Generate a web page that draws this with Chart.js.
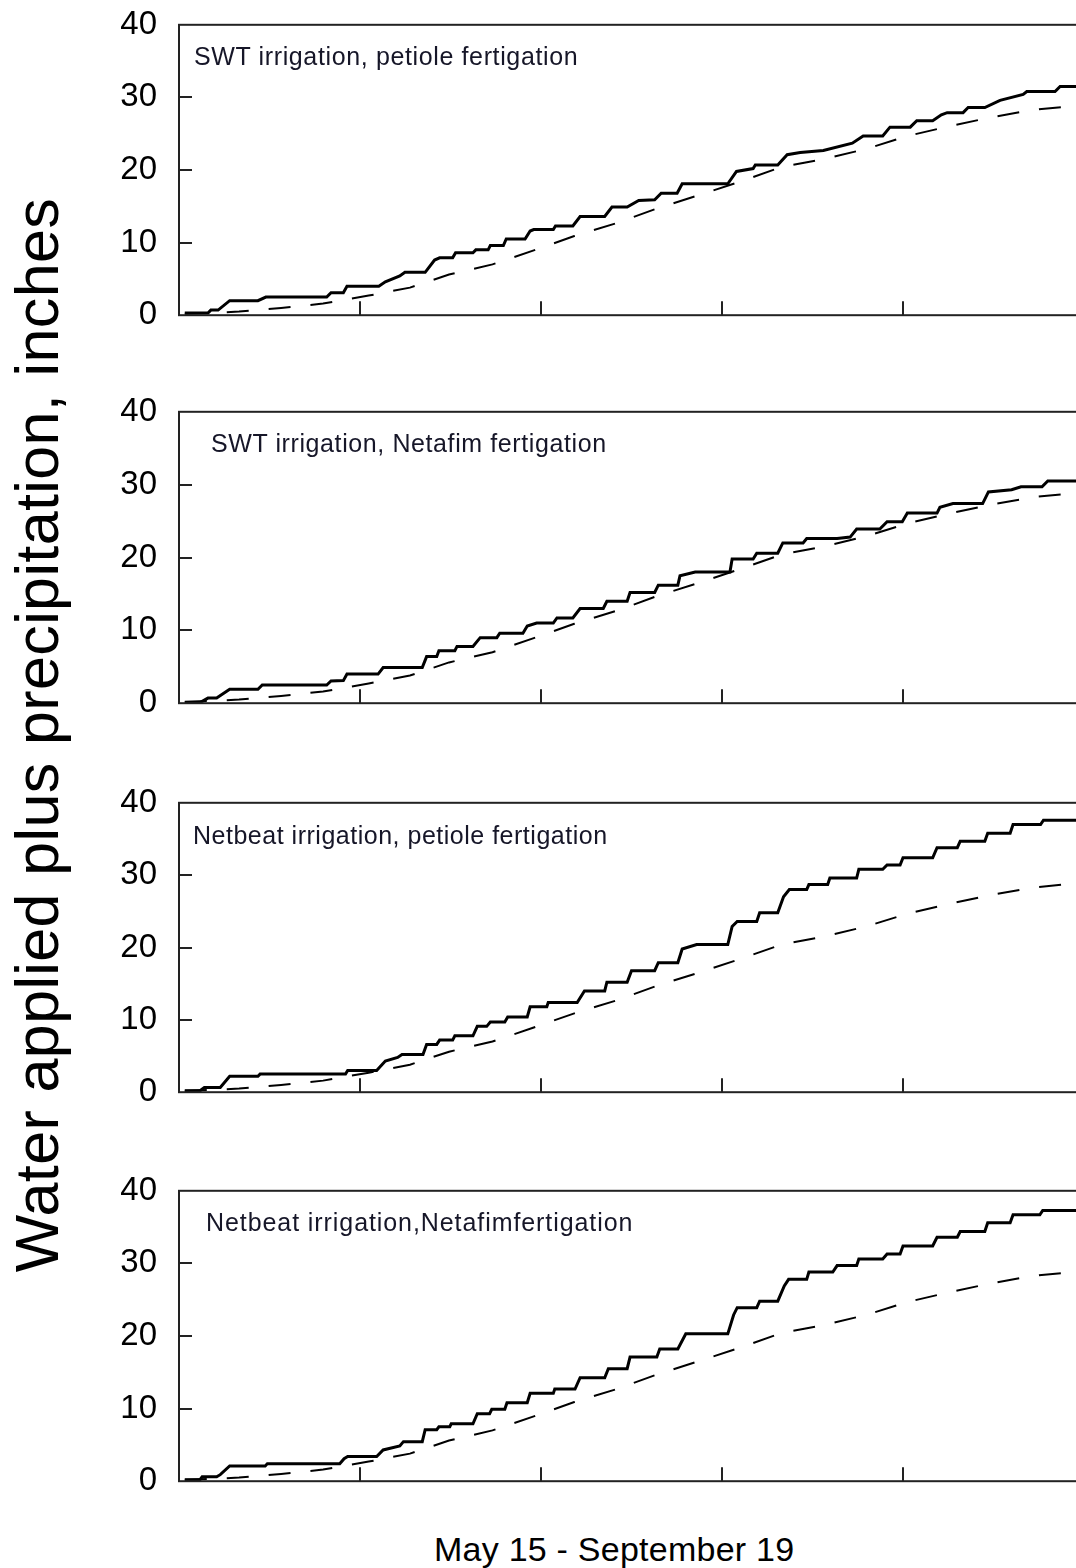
<!DOCTYPE html>
<html lang="en">
<head>
<meta charset="UTF-8">
<title>Water applied plus precipitation</title>
<script src="https://cdn.jsdelivr.net/npm/chart.js"></script>
<style>
  body {
    margin: 0;
    width: 1076px;
    height: 1568px;
    overflow: hidden;
    position: relative;
    background: #fff;
    font-family: "Liberation Sans", Arial, sans-serif;
    color: #000;
  }
  canvas.panel { position: absolute; left: 0; }
  .label { position: absolute; white-space: nowrap; line-height: 1; }
  .panel-title { font-size: 25px; color: #161628; }
  #y-title { font-size: 61px; transform: translate(-50%, -50%) rotate(-90deg); }
  #x-title { font-size: 34px; }
</style>
</head>
<body>

<div id="y-title" class="label">Water applied plus precipitation, inches</div>
<div id="x-title" class="label">May 15 - September 19</div>

<script>
// cumulative inches, [day after May 15, inches]
const swtPetiole = [
  [0.8,0.3],[4.0,0.3],[4.4,0.7],[5.4,0.7],[7.0,2.0],[10.9,2.0],[12.0,2.5],[20.4,2.5],
  [21.0,3.1],[22.7,3.1],[23.2,4.0],[27.6,4.0],[28.5,4.6],[30.5,5.4],[31.2,5.9],[34.0,5.9],
  [35.3,7.6],[36.0,7.9],[37.8,7.9],[38.2,8.6],[40.6,8.6],[41.0,9.0],[42.7,9.0],[43.0,9.6],
  [44.8,9.6],[45.2,10.5],[47.8,10.5],[48.5,11.6],[49.0,11.8],[51.7,11.8],[52.0,12.3],[54.4,12.3],
  [55.4,13.6],[58.8,13.6],[59.8,14.9],[61.9,14.9],[63.5,15.8],[65.7,15.9],[66.6,16.8],[68.8,16.8],
  [69.5,18.1],[75.8,18.1],[77.0,19.8],[79.3,20.2],[79.6,20.7],[82.7,20.7],[84.0,22.1],[85.8,22.4],
  [89.0,22.7],[93.0,23.7],[94.5,24.7],[97.2,24.7],[98.2,25.9],[101.0,25.9],[101.9,26.8],[104.1,26.8],
  [105.3,27.6],[106.1,27.9],[108.3,27.9],[109.0,28.6],[111.3,28.6],[113.4,29.6],[116.6,30.4],[117.1,30.8],
  [121.0,30.8],[121.7,31.5],[127,31.5]
];
const swtNetafim = [
  [0.8,0.1],[2.9,0.1],[4.0,0.7],[5.2,0.7],[7.0,1.9],[10.9,1.9],[11.5,2.5],[20.4,2.5],
  [21.0,3.05],[22.7,3.1],[23.2,4.0],[27.5,4.0],[28.2,4.9],[33.6,4.9],[34.2,6.4],[35.6,6.4],
  [35.9,7.2],[38.1,7.2],[38.4,7.8],[40.6,7.8],[41.6,9.0],[43.9,9.0],[44.3,9.6],[47.5,9.6],
  [48.1,10.6],[49.4,11.0],[51.7,11.0],[52.2,11.7],[54.4,11.7],[55.4,13.0],[58.6,13.0],[59.1,14.0],
  [61.9,14.0],[62.3,15.2],[65.7,15.2],[66.2,16.2],[68.9,16.2],[69.2,17.5],[71.3,18.0],[76.1,18.0],
  [76.4,19.8],[79.3,19.8],[79.8,20.6],[82.7,20.6],[83.4,22.0],[86.2,22.0],[86.7,22.6],[90.9,22.6],
  [92.7,22.8],[93.6,23.9],[96.8,23.9],[97.8,24.9],[99.9,24.9],[100.6,26.1],[104.7,26.1],[105.1,26.9],
  [106.9,27.4],[111.0,27.4],[111.8,29.0],[115.0,29.3],[116.3,29.7],[119.2,29.7],[120.0,30.5],[127,30.5]
];
const netbeatPetiole = [
  [0.8,0.2],[2.9,0.2],[3.5,0.65],[5.7,0.65],[7.0,2.2],[10.9,2.2],[11.2,2.5],[23.0,2.5],
  [23.3,3.0],[27.3,3.0],[28.5,4.3],[30.2,4.8],[30.8,5.2],[33.7,5.2],[34.2,6.6],[35.6,6.6],
  [36.0,7.2],[37.8,7.2],[38.1,7.8],[40.6,7.8],[41.2,9.1],[42.5,9.1],[43.0,9.7],[45.0,9.7],
  [45.4,10.4],[48.1,10.4],[48.5,11.8],[50.8,11.8],[51.0,12.4],[55.0,12.4],[56.0,14.0],[58.8,14.0],
  [59.1,15.2],[61.9,15.2],[62.5,16.8],[65.7,16.8],[66.2,17.9],[68.9,17.9],[69.5,19.8],[71.5,20.4],
  [75.8,20.4],[76.4,22.9],[77.1,23.6],[79.8,23.6],[80.2,24.8],[82.7,24.8],[83.5,27.0],[84.3,28.0],
  [86.7,28.0],[87.0,28.7],[89.6,28.7],[89.9,29.6],[93.6,29.6],[93.9,30.8],[97.2,30.8],[97.8,31.4],
  [99.6,31.4],[100.0,32.4],[104.1,32.4],[104.7,33.8],[107.5,33.8],[107.9,34.7],[111.3,34.7],[111.7,35.8],
  [114.8,35.8],[115.2,37.0],[119.0,37.0],[119.4,37.6],[127,37.6]
];
const netbeatNetafim = [
  [0.8,0.2],[2.9,0.2],[3.2,0.6],[5.2,0.6],[5.7,0.9],[7.0,2.1],[11.9,2.1],[12.2,2.4],
  [22.2,2.4],[22.8,3.1],[23.3,3.4],[27.3,3.4],[28.2,4.3],[30.5,4.85],[31.0,5.45],[33.6,5.45],
  [34.0,7.1],[35.6,7.1],[35.9,7.5],[37.4,7.5],[37.6,7.9],[40.6,7.9],[41.2,9.3],[42.9,9.3],
  [43.2,9.9],[45.0,9.9],[45.3,10.8],[48.1,10.8],[48.5,12.1],[51.7,12.1],[51.9,12.7],[54.7,12.7],
  [55.4,14.25],[58.8,14.25],[59.3,15.5],[61.9,15.5],[62.3,17.1],[66.0,17.1],[66.4,18.2],[68.9,18.2],
  [70.0,20.3],[75.8,20.3],[76.6,22.9],[77.1,23.9],[79.8,23.9],[80.2,24.8],[82.7,24.8],[83.6,26.9],
  [84.2,27.8],[86.7,27.8],[87.0,28.8],[90.3,28.8],[90.9,29.7],[93.6,29.7],[93.9,30.6],[97.2,30.6],
  [97.8,31.3],[99.6,31.3],[100.0,32.4],[104.1,32.4],[104.7,33.6],[107.5,33.6],[107.9,34.4],[111.3,34.4],
  [111.7,35.6],[114.8,35.6],[115.2,36.7],[118.9,36.7],[119.3,37.3],[127,37.3]
];
// crop water use, same in every panel (dashed)
const cropEt = [
  [0.8,0.2],[4.0,0.3],[8.3,0.5],[14.1,1.0],[19.9,1.6],[26.2,2.7],[31.9,3.8],[37.3,5.6],
  [43.3,7.0],[48.9,8.9],[54.6,10.9],[60.5,12.7],[66.0,14.7],[71.7,16.5],[77.5,18.4],[83.2,20.4],
  [89.0,21.5],[94.9,22.9],[100.7,24.7],[106.7,26.1],[112.4,27.3],[118.1,28.3],[123.3,28.8],[127,29.2]
];

const yTicks = [0, 10, 20, 30, 40];
const xTickDays = [25, 50, 75, 100, 125];
const seasonDays = 127;

const panelTitles = [
  'SWT irrigation, petiole fertigation',
  'SWT irrigation, Netafim fertigation',
  'Netbeat irrigation, petiole fertigation',
  'Netbeat irrigation,Netafimfertigation'
];
const panelSeries = [swtPetiole, swtNetafim, netbeatPetiole, netbeatNetafim];

// page layout: plot box top/bottom, title position and width
const panelBoxes = [
  { top: 25,   bottom: 316,  titleX: 194, titleBase: 65,    titleW: 384 },
  { top: 412,  bottom: 704,  titleX: 211, titleBase: 451.7, titleW: 396 },
  { top: 803,  bottom: 1093, titleX: 193, titleBase: 844,   titleW: 415 },
  { top: 1191, bottom: 1482, titleX: 206, titleBase: 1230.7, titleW: 427 }
];
const PLOT_LEFT = 179;
const CANVAS_W = 1120;
const PAD = 20;

const toXY = pts => pts.map(p => ({ x: p[0], y: p[1] }));

// box frame plus inward tick marks
const frameTicks = {
  id: 'frameTicks',
  afterDatasetsDraw(chart) {
    const { ctx, chartArea: a, scales: { x, y } } = chart;
    ctx.save();
    ctx.strokeStyle = '#222';
    ctx.lineWidth = 2;
    ctx.strokeRect(a.left, a.top, a.right - a.left, a.bottom - a.top);
    ctx.beginPath();
    yTicks.slice(1, -1).forEach(v => {
      const py = Math.round(y.getPixelForValue(v));
      ctx.moveTo(a.left, py);
      ctx.lineTo(a.left + 13, py);
    });
    xTickDays.forEach(d => {
      const px = Math.round(x.getPixelForValue(d));
      ctx.moveTo(px, a.bottom);
      ctx.lineTo(px, a.bottom - 14);
    });
    ctx.stroke();
    ctx.restore();
  }
};

function makeChart(canvas, series) {
  return new Chart(canvas.getContext('2d'), {
    type: 'line',
    data: {
      datasets: [
        {
          data: toXY(series),
          borderColor: '#000',
          borderWidth: 3,
          pointRadius: 0,
          tension: 0
        },
        {
          data: toXY(cropEt),
          borderColor: '#000',
          borderWidth: 2,
          borderDash: [22, 20],
          pointRadius: 0,
          tension: 0
        }
      ]
    },
    options: {
      responsive: false,
      animation: false,
      events: [],
      layout: { padding: { top: PAD, bottom: PAD, left: 0, right: CANVAS_W - PLOT_LEFT - 7.24 * seasonDays } },
      plugins: { legend: { display: false }, tooltip: { enabled: false } },
      scales: {
        x: { type: 'linear', min: 0, max: seasonDays, display: false },
        y: {
          min: 0,
          max: 40,
          afterBuildTicks: s => { s.ticks = yTicks.map(v => ({ value: v })); },
          afterFit: s => { s.width = PLOT_LEFT; },
          grid: { display: false },
          border: { display: false },
          ticks: {
            padding: 14,
            color: '#000',
            font: { family: '"Liberation Sans", Arial, sans-serif', size: 33 }
          }
        }
      }
    },
    plugins: [frameTicks]
  });
}

function fitText(el, target) {
  const w = el.offsetWidth;
  el.style.letterSpacing = ((target - w) / el.textContent.length).toFixed(2) + 'px';
}

panelBoxes.forEach((box, i) => {
  const h = box.bottom - box.top;
  const canvas = document.createElement('canvas');
  canvas.className = 'panel';
  canvas.width = CANVAS_W;
  canvas.height = h + PAD * 2;
  document.body.appendChild(canvas);

  // first pass finds how much room the tick labels take, then size the canvas
  let chart = makeChart(canvas, panelSeries[i]);
  const above = chart.chartArea.top;
  const below = canvas.height - chart.chartArea.bottom;
  chart.destroy();
  canvas.width = CANVAS_W;
  canvas.height = h + above + below;
  canvas.style.width = CANVAS_W + 'px';
  canvas.style.height = canvas.height + 'px';
  canvas.style.top = (box.top - above) + 'px';
  chart = makeChart(canvas, panelSeries[i]);

  const t = document.createElement('div');
  t.className = 'label panel-title';
  t.textContent = panelTitles[i];
  t.style.left = box.titleX + 'px';
  t.style.top = (box.titleBase - 21.2) + 'px';
  document.body.appendChild(t);
  fitText(t, box.titleW);
});

const yTitle = document.getElementById('y-title');
fitText(yTitle, 1074);
yTitle.style.left = '37px';
yTitle.style.top = '735px';

const xTitle = document.getElementById('x-title');
fitText(xTitle, 360);
xTitle.style.left = (614 - xTitle.offsetWidth / 2) + 'px';
xTitle.style.top = (1561 - 28.8) + 'px';
</script>
</body>
</html>
